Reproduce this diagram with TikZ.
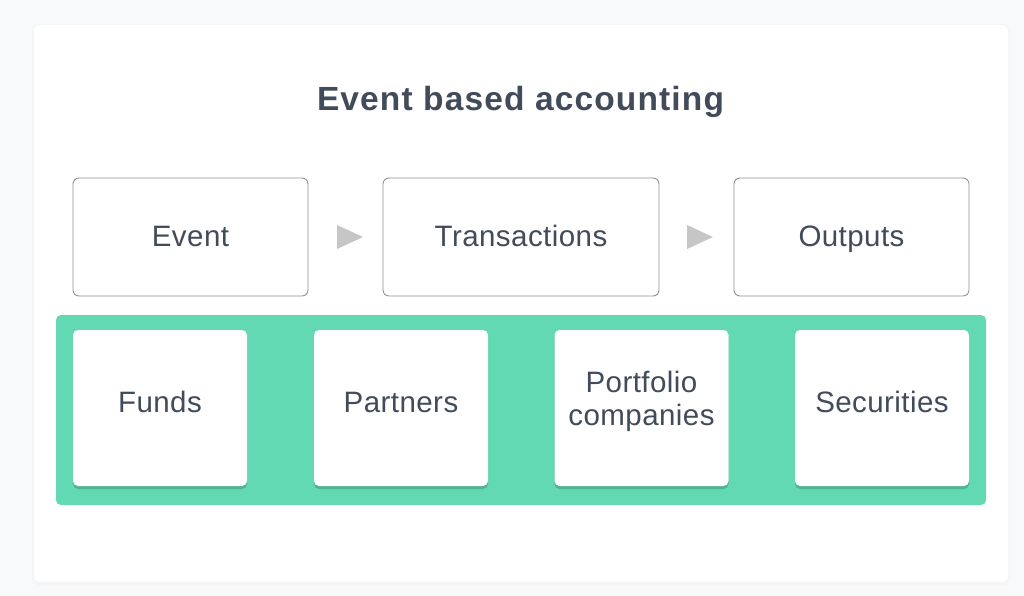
\documentclass[tikz,border=0pt]{standalone}
\usepackage{fontspec}
\setmainfont[LetterSpace=1.5]{Liberation Sans}
\newfontfamily\titlefont[LetterSpace=3.4]{Liberation Sans}
\usetikzlibrary{positioning,calc}
\definecolor{bgc}{HTML}{F8F9FB}
\definecolor{txt}{HTML}{414B59}
\definecolor{bord}{HTML}{8C939B}
\definecolor{band}{HTML}{62D9B2}
\definecolor{bandsh}{HTML}{4FB392}
\definecolor{arr}{HTML}{C6C6C6}
\tikzset{
  flowbox/.style={draw=bord, line width=0.9pt, rounded corners=6pt, fill=white},
  entbox/.style={fill=white, rounded corners=5pt},
  lbl/.style={text=txt, inner sep=0pt, font=\fontsize{29.5}{33}\selectfont, align=center},
  onel/.style={lbl, text height=21pt, text depth=0pt},
  tri/.style={fill=arr, draw=none}
}
\begin{document}
\begin{tikzpicture}[x=1pt,y=-1pt]
\useasboundingbox (0,0) rectangle (1024,596);
\fill[bgc] (0,0) rectangle (1024,596);
% card
\fill[black!4, rounded corners=7pt] (32,24) rectangle (1010,585);
\fill[white, rounded corners=6pt] (34,25) rectangle (1008,582);
\node[text=txt, inner sep=0pt, text height=24pt, text depth=0pt, font=\titlefont\bfseries\fontsize{33.5}{38}\selectfont] (title) at (520.5,98.5) {Event based accounting};
% top row
\node[flowbox, minimum width=235pt, minimum height=118pt] (event) at (190.5,237) {};
\node[flowbox, minimum width=276pt, minimum height=118pt] (trans) at (521,237) {};
\node[flowbox, minimum width=235pt, minimum height=118pt] (outp) at (851.5,237) {};
\node[onel] (eventt) at ($(event.center)+(0,-1.5)$) {Event};
\node[onel] (transt) at ($(trans.center)+(0,-1.5)$) {Transactions};
\node[onel] (outpt) at ($(outp.center)+(0,-1.5)$) {Outputs};
\fill[tri] (337,225) -- (363,237) -- (337,249) -- cycle;
\fill[tri] (687,225) -- (713,237) -- (687,249) -- cycle;
% band
\fill[band, rounded corners=5pt] (56,315) rectangle (986,505);
\foreach \n/\x in {funds/160, partners/401, portfolio/641.5, secur/882}{
  \fill[bandsh, rounded corners=5pt] (\x-87,332) rectangle (\x+87,489);
  \node[entbox, minimum width=174pt, minimum height=156pt] (\n) at (\x,408) {};
}
\node[onel] (fundst) at ($(funds.center)+(0,-6.5)$) {Funds};
\node[onel] (partnerst) at ($(partners.center)+(0,-6.5)$) {Partners};
\node[lbl] (portfoliot) at ($(portfolio.center)+(0,-7)$) {Portfolio\\companies};
\node[onel] (secourt) at ($(secur.center)+(0,-6.5)$) {Securities};
\end{tikzpicture}
\end{document}
